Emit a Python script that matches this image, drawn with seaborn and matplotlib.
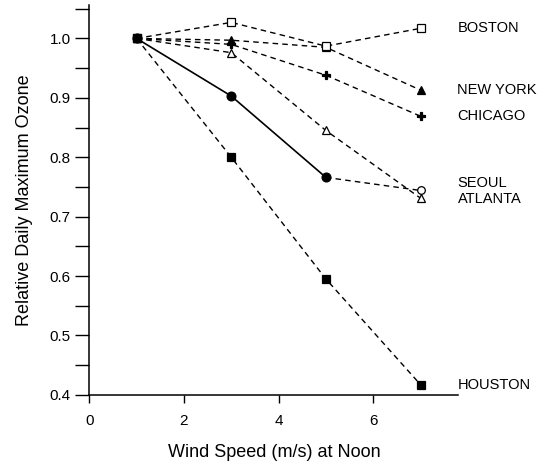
import numpy as np
import pandas as pd
import matplotlib
matplotlib.use("Agg")
import matplotlib.pyplot as plt
import seaborn as sns
from matplotlib.ticker import MultipleLocator

# wind speed at noon (m/s)
wind = [1, 3, 5, 7]

# relative daily maximum ozone
boston = [1.0, 1.027, 0.987, 1.017]
new_york = [1.0, 0.997, 0.985, 0.913]
chicago = [1.0, 0.990, 0.938, 0.869]
atlanta = [1.0, 0.976, 0.845, 0.731]
seoul = [1.0, 0.903, 0.766, 0.744]
houston = [1.0, 0.800, 0.595, 0.417]

cities = ["BOSTON", "NEW YORK", "CHICAGO", "SEOUL", "ATLANTA", "HOUSTON"]
# where each city name sits next to the last point
label_y = [1.017, 0.913, 0.869, 0.757, 0.729, 0.417]

sns.set_style("ticks")
plt.rcParams['font.family'] = ['Liberation Sans', 'DejaVu Sans']
plt.rcParams.update({"text.color": "black", "axes.labelcolor": "black",
                     "xtick.color": "black", "ytick.color": "black"})

fig = plt.figure(figsize=(5.51, 4.70), dpi=100)
ax = fig.add_axes([0.162, 0.16, 0.670, 0.829])

dash = (4, 3)
styles = {
    "HOUSTON": (houston, "s", "black"),
    "ATLANTA": (atlanta, "^", "white"),
    "CHICAGO": (chicago, "P", "black"),
    "NEW YORK": (new_york, "^", "black"),
    "BOSTON": (boston, "s", "white"),
}
for name, (vals, mk, fc) in styles.items():
    sns.lineplot(x=wind, y=vals, ax=ax, color="black", lw=1.0, dashes=False,
                 linestyle=(0, dash), marker=mk, markersize=5.5,
                 markerfacecolor=fc, markeredgecolor="black", markeredgewidth=0.9)

# Seoul: solid up to 5 m/s, dashed to the last (open) point
sns.lineplot(x=wind[2:], y=seoul[2:], ax=ax, color="black", lw=1.0,
             linestyle=(0, dash))
sns.lineplot(x=wind[:3], y=seoul[:3], ax=ax, color="black", lw=1.2,
             marker="o", markersize=6.5, markerfacecolor="black",
             markeredgecolor="black")
ax.plot(wind[3], seoul[3], marker="o", markersize=5.5, markerfacecolor="white",
        markeredgecolor="black", markeredgewidth=0.9, clip_on=False, zorder=5)

for name, yy in zip(cities, label_y):
    ax.text(7.78, yy, name, fontsize=10.5, va="center", ha="left", clip_on=False)

ax.set_xlim(0, 7.8)
ax.set_ylim(0.4, 1.056)
ax.set_xticks([0, 2, 4, 6])
ax.yaxis.set_minor_locator(MultipleLocator(0.05))
ax.set_yticks(np.arange(0.4, 1.01, 0.1))
ax.set_yticklabels([f"{v:.1f}" for v in np.arange(0.4, 1.01, 0.1)])
ax.tick_params(axis="y", which="major", length=10, width=1, labelsize=11)
ax.tick_params(axis="y", which="minor", length=10, width=1)
ax.tick_params(axis="x", length=6, width=1, labelsize=11, pad=8)
for s in ["top", "right"]:
    ax.spines[s].set_visible(False)
for s in ["left", "bottom"]:
    ax.spines[s].set_linewidth(1.1)
    ax.spines[s].set_color("black")

ax.set_xlabel("Wind Speed (m/s) at Noon", fontsize=13, labelpad=11)
ax.set_ylabel("Relative Daily Maximum Ozone", fontsize=13, labelpad=12)

for line in ax.lines:
    line.set_clip_on(False)

fig.savefig("out.png", dpi=100)
